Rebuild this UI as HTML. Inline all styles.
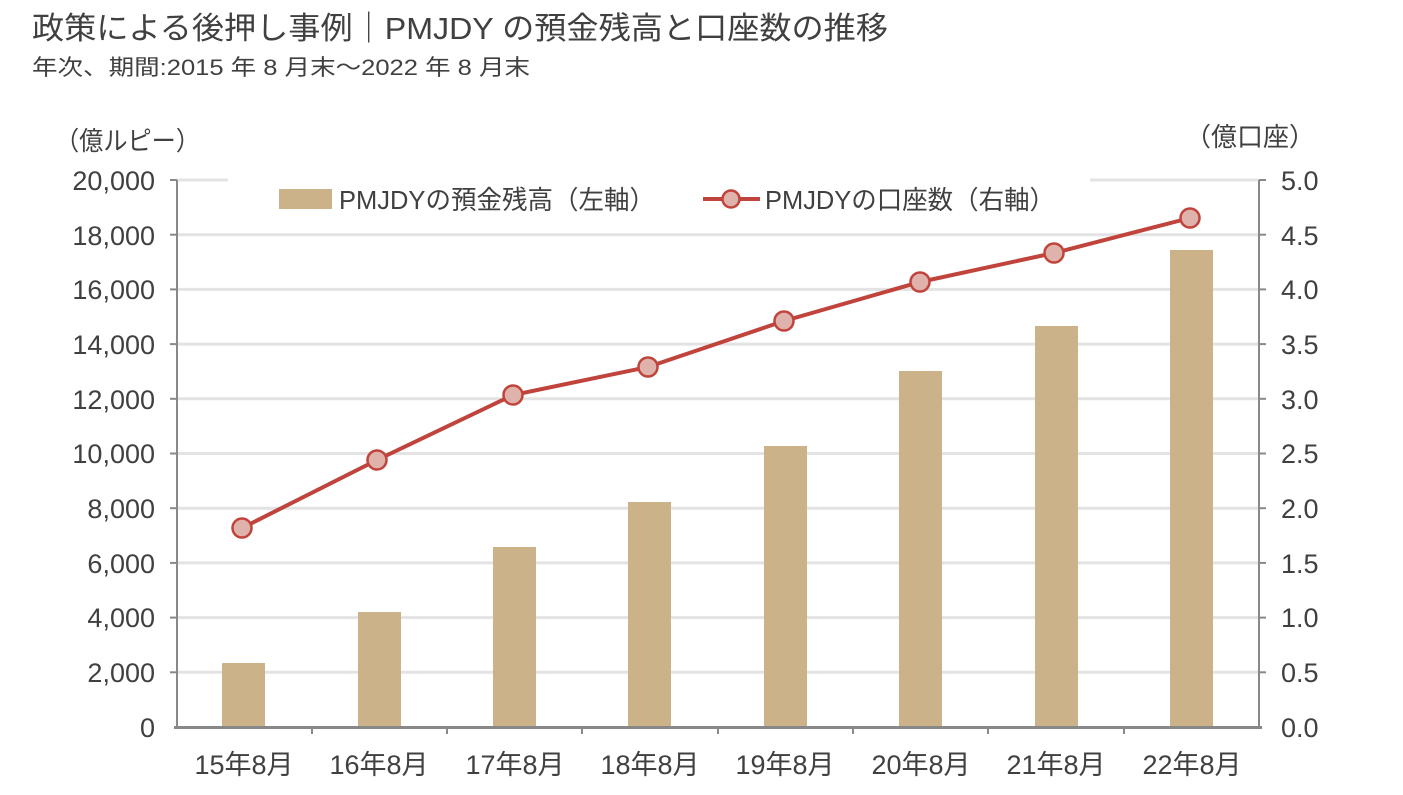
<!DOCTYPE html>
<html><head><meta charset="utf-8"><style>
body{margin:0;background:#fff;width:1403px;height:790px;overflow:hidden;font-family:"Liberation Sans","Noto Sans CJK JP",sans-serif;}
</style></head><body>
<svg width="1403" height="790" viewBox="0 0 1403 790" xmlns="http://www.w3.org/2000/svg" font-family="Liberation Sans, Noto Sans CJK JP, sans-serif">
<text x="32" y="39" font-size="31" fill="#404040" textLength="856" lengthAdjust="spacingAndGlyphs">政策による後押し事例｜PMJDY の預金残高と口座数の推移</text>
<text x="32" y="75" font-size="22" fill="#404040" textLength="498" lengthAdjust="spacingAndGlyphs">年次、期間:2015 年 8 月末～2022 年 8 月末</text>
<text x="55" y="150" font-size="26" fill="#404040" textLength="145" lengthAdjust="spacingAndGlyphs">（億ルピー）</text>
<text x="1185" y="146" font-size="26" fill="#404040" textLength="130" lengthAdjust="spacingAndGlyphs">（億口座）</text>
<g stroke="#e3e3e3" stroke-width="3">
<line x1="177" x2="1259" y1="180" y2="180"/><line x1="177" x2="1259" y1="234.7" y2="234.7"/>
<line x1="177" x2="1259" y1="289.4" y2="289.4"/><line x1="177" x2="1259" y1="344.1" y2="344.1"/>
<line x1="177" x2="1259" y1="398.8" y2="398.8"/><line x1="177" x2="1259" y1="453.5" y2="453.5"/>
<line x1="177" x2="1259" y1="508.2" y2="508.2"/><line x1="177" x2="1259" y1="562.9" y2="562.9"/>
<line x1="177" x2="1259" y1="617.6" y2="617.6"/><line x1="177" x2="1259" y1="672.3" y2="672.3"/>
</g>
<rect x="228" y="170" width="862" height="50" fill="#fff"/>
<g fill="#cbb289">
<rect x="222" y="663" width="43" height="64"/><rect x="358" y="612" width="43" height="115"/>
<rect x="493" y="547" width="43" height="180"/><rect x="628" y="502" width="43" height="225"/>
<rect x="764" y="446" width="43" height="281"/><rect x="899" y="371" width="43" height="356"/>
<rect x="1035" y="326" width="43" height="401"/><rect x="1170" y="250" width="43" height="477"/>
</g>
<g stroke="#888" stroke-width="2" fill="none">
<line x1="177" y1="180" x2="177" y2="727"/><line x1="1259" y1="180" x2="1259" y2="727"/>
</g>
<line x1="174" y1="727.5" x2="1262" y2="727.5" stroke="#888" stroke-width="3"/>
<g stroke="#888" stroke-width="2">
<line x1="170" x2="177" y1="180" y2="180"/><line x1="170" x2="177" y1="234.7" y2="234.7"/><line x1="170" x2="177" y1="289.4" y2="289.4"/><line x1="170" x2="177" y1="344.1" y2="344.1"/><line x1="170" x2="177" y1="398.8" y2="398.8"/><line x1="170" x2="177" y1="453.5" y2="453.5"/><line x1="170" x2="177" y1="508.2" y2="508.2"/><line x1="170" x2="177" y1="562.9" y2="562.9"/><line x1="170" x2="177" y1="617.6" y2="617.6"/><line x1="170" x2="177" y1="672.3" y2="672.3"/>
<line x1="1259" x2="1266" y1="180" y2="180"/><line x1="1259" x2="1266" y1="234.7" y2="234.7"/><line x1="1259" x2="1266" y1="289.4" y2="289.4"/><line x1="1259" x2="1266" y1="344.1" y2="344.1"/><line x1="1259" x2="1266" y1="398.8" y2="398.8"/><line x1="1259" x2="1266" y1="453.5" y2="453.5"/><line x1="1259" x2="1266" y1="508.2" y2="508.2"/><line x1="1259" x2="1266" y1="562.9" y2="562.9"/><line x1="1259" x2="1266" y1="617.6" y2="617.6"/><line x1="1259" x2="1266" y1="672.3" y2="672.3"/>
<line x1="312" x2="312" y1="727" y2="734"/><line x1="447" x2="447" y1="727" y2="734"/><line x1="582" x2="582" y1="727" y2="734"/><line x1="718" x2="718" y1="727" y2="734"/><line x1="853" x2="853" y1="727" y2="734"/><line x1="988" x2="988" y1="727" y2="734"/><line x1="1124" x2="1124" y1="727" y2="734"/>
</g>
<g font-size="27" fill="#404040" text-anchor="end">
<text x="155" y="190">20,000</text><text x="155" y="245">18,000</text><text x="155" y="299">16,000</text><text x="155" y="354">14,000</text><text x="155" y="409">12,000</text><text x="155" y="463">10,000</text><text x="155" y="518">8,000</text><text x="155" y="573">6,000</text><text x="155" y="627">4,000</text><text x="155" y="682">2,000</text><text x="155" y="737">0</text>
</g>
<g font-size="27" fill="#404040">
<text x="1281" y="190">5.0</text><text x="1281" y="245">4.5</text><text x="1281" y="299">4.0</text><text x="1281" y="354">3.5</text><text x="1281" y="409">3.0</text><text x="1281" y="463">2.5</text><text x="1281" y="518">2.0</text><text x="1281" y="573">1.5</text><text x="1281" y="627">1.0</text><text x="1281" y="682">0.5</text><text x="1281" y="737">0.0</text>
</g>
<g font-size="27" fill="#404040" text-anchor="middle">
<text x="244" y="774">15年8月</text><text x="379" y="774">16年8月</text><text x="515" y="774">17年8月</text><text x="650" y="774">18年8月</text><text x="785" y="774">19年8月</text><text x="921" y="774">20年8月</text><text x="1056" y="774">21年8月</text><text x="1192" y="774">22年8月</text>
</g>
<polyline points="242,528 377,460 513,395 648,367 784,321 920,282 1054,253 1190,218" fill="none" stroke="#c0443c" stroke-width="4"/>
<g fill="#dfb2ab" stroke="#c0443c" stroke-width="2.5">
<circle cx="242" cy="528" r="9.5"/><circle cx="377" cy="460" r="9.5"/><circle cx="513" cy="395" r="9.5"/><circle cx="648" cy="367" r="9.5"/><circle cx="784" cy="321" r="9.5"/><circle cx="920" cy="282" r="9.5"/><circle cx="1054" cy="253" r="9.5"/><circle cx="1190" cy="218" r="9.5"/>
</g>
<rect x="279" y="189" width="53" height="20" fill="#cbb289"/>
<text x="339" y="209" font-size="26" fill="#404040" textLength="316" lengthAdjust="spacingAndGlyphs">PMJDYの預金残高（左軸）</text>
<line x1="703" y1="199" x2="760" y2="199" stroke="#c0443c" stroke-width="4"/>
<circle cx="731" cy="199" r="8.5" fill="#dfb2ab" stroke="#c0443c" stroke-width="2.5"/>
<text x="765" y="209" font-size="26" fill="#404040" textLength="290" lengthAdjust="spacingAndGlyphs">PMJDYの口座数（右軸）</text>
</svg>
</body></html>
